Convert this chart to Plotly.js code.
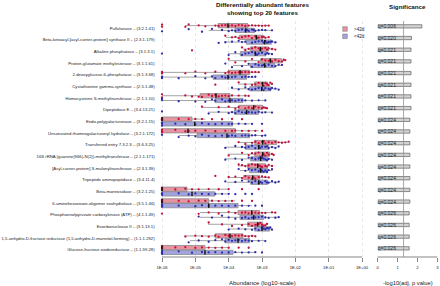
<!DOCTYPE html>
<html><head><meta charset="utf-8">
<script src="https://cdn.plot.ly/plotly-3.0.1.min.js"></script>
<style>html,body{margin:0;padding:0;background:#fff}#chart{width:440px;height:286px}</style>
</head><body><div id="chart"></div>
<script>
// ---------- data ----------
const features = [
  "Pullulanase – (3.2.1.41)",
  "Beta-ketoacyl-[acyl-carrier-protein] synthase II – (2.3.1.179)",
  "Alkaline phosphatase – (3.1.3.1)",
  "Protein-glutamate methylesterase – (3.1.1.61)",
  "2-deoxyglucose-6-phosphatase – (3.1.3.68)",
  "Cystathionine gamma-synthase – (2.5.1.48)",
  "Homocysteine S-methyltransferase – (2.1.1.10)",
  "Dipeptidase E – (3.4.13.21)",
  "Endo-polygalacturonase – (3.2.1.15)",
  "Unsaturated rhamnogalacturonyl hydrolase – (3.2.1.172)",
  "Transferred entry 7.3.2.3 – (3.6.3.25)",
  "16S rRNA (guanine(966)-N(2))-methyltransferase – (2.1.1.171)",
  "[Acyl-carrier-protein] S-malonyltransferase – (2.3.1.39)",
  "Tripeptide aminopeptidase – (3.4.11.4)",
  "Beta-mannosidase – (3.2.1.25)",
  "6-aminohexanoate-oligomer exohydrolase – (3.5.1.46)",
  "Phosphoenolpyruvate carboxykinase (ATP) – (4.1.1.49)",
  "Exoribonuclease II – (3.1.13.1)",
  "1,5-anhydro-D-fructose reductase (1,5-anhydro-D-mannitol-forming) – (1.1.1.292)",
  "Glucose-fructose oxidoreductase – (1.1.99.28)"
];
const qValues = [0.006,0.020,0.021,0.021,0.021,0.021,0.021,0.021,0.024,0.024,0.024,0.024,0.024,0.024,0.024,0.024,0.026,0.026,0.026,0.026];
const alpha = 0.05;
const groupNames = [">42d", "<42d"];

// box statistics, log10 abundance
const oldLo  = [-5.31,-4.08,-3.57,-4.02,-6,-3.72,-6,-4.83,-6,-6,-3.66,-4.0,-3.72,-4.02,-6,-6,-4.86,-4.62,-5.28,-6];
const oldQ1  = [-4.32,-3.68,-3.35,-3.04,-4.02,-3.22,-4.86,-3.7,-6,-6,-3.22,-3.22,-3.43,-3.55,-6,-6,-3.72,-3.43,-4.41,-6];
const oldMed = [-4.02,-3.17,-3.05,-2.75,-3.66,-2.98,-4.38,-3.25,-6,-5.22,-2.98,-2.98,-3.13,-3.28,-6,-6,-3.31,-3.13,-3.96,-6];
const oldQ3  = [-3.43,-2.98,-2.8,-2.42,-3.37,-2.83,-3.96,-2.98,-5.1,-3.8,-2.56,-2.77,-2.89,-3.07,-5.25,-4.6,-3.07,-2.98,-3.57,-4.71];
const oldHi  = [-2.77,-2.77,-2.62,-2.29,-3.07,-2.68,-3.43,-2.83,-4.7,-3.1,-2.23,-2.65,-2.68,-2.77,-4.0,-3.8,-2.62,-2.83,-3.19,-4.0];

const youngLo  = [-4.6,-4.1,-4.02,-3.87,-6,-3.9,-6,-4.62,-6,-5.5,-4.1,-4.1,-3.66,-4.05,-6,-6,-4.86,-4.0,-5.16,-6];
const youngQ1  = [-3.81,-3.47,-3.65,-3.35,-4.47,-3.37,-4.41,-3.83,-6,-4.95,-3.49,-3.34,-3.37,-3.34,-6,-6,-3.66,-3.22,-4.11,-6];
const youngMed = [-3.49,-2.92,-3.2,-2.92,-4.02,-3.01,-3.96,-3.46,-5.02,-4.05,-3.1,-3.04,-3.04,-3.1,-5.1,-4.6,-3.25,-3.0,-3.72,-4.71];
const youngQ3  = [-3.22,-2.72,-2.88,-2.62,-3.46,-2.74,-3.57,-3.1,-3.88,-3.37,-2.8,-2.83,-2.83,-2.83,-4.41,-3.72,-2.95,-2.77,-3.37,-3.87];
const youngHi  = [-2.68,-2.55,-2.68,-2.38,-3.22,-2.53,-2.92,-2.68,-3.35,-2.9,-2.53,-2.68,-2.68,-2.47,-3.96,-3.3,-2.47,-2.68,-2.92,-3.2];

// sample points, log10 abundance (zeros shown at 1E-06)
const oldPoints = [
  [-6,-6,-5.3,-5.2,-4.9,-4.7,-4.4,-4.3,-4.2,-4.1,-4.0,-3.9,-3.8,-3.7,-3.6,-3.5,-3.4,-3.3,-3.2,-3.1,-3.0,-2.9,-2.8],
  [-4.1,-3.9,-3.8,-3.7,-3.6,-3.5,-3.4,-3.3,-3.2,-3.15,-3.1,-3.0,-2.95,-2.9,-2.8],
  [-5.1,-3.6,-3.5,-3.4,-3.3,-3.2,-3.1,-3.05,-3.0,-2.9,-2.85,-2.8,-2.7,-2.6],
  [-4.0,-3.8,-3.5,-3.3,-3.1,-3.0,-2.9,-2.8,-2.75,-2.7,-2.6,-2.5,-2.4,-2.35,-2.3],
  [-6,-6,-6,-5.3,-5.0,-4.7,-4.4,-4.1,-4.0,-3.9,-3.8,-3.7,-3.65,-3.6,-3.5,-3.4,-3.3,-3.2,-3.1],
  [-4.4,-3.7,-3.5,-3.3,-3.2,-3.1,-3.0,-2.95,-2.9,-2.85,-2.8,-2.75,-2.7],
  [-6,-6,-5.3,-5.1,-4.9,-4.8,-4.6,-4.5,-4.4,-4.3,-4.2,-4.1,-4.0,-3.9,-3.7,-3.5,-3.4],
  [-4.8,-4.3,-4.0,-3.8,-3.7,-3.5,-3.4,-3.3,-3.2,-3.1,-3.0,-2.95,-2.9,-2.85],
  [-6,-6,-6,-6,-6,-6,-5.5,-5.2,-5.0,-4.8,-4.5,-4.2,-3.9,-3.6],
  [-6,-6,-6,-6,-5.6,-5.3,-5.2,-5.0,-4.7,-4.4,-4.1,-3.9,-3.8,-3.6,-3.4,-3.2,-3.0],
  [-3.7,-3.5,-3.3,-3.2,-3.1,-3.0,-2.95,-2.9,-2.8,-2.7,-2.6,-2.5,-2.4,-2.3,-2.2],
  [-4.0,-3.6,-3.4,-3.3,-3.2,-3.1,-3.0,-2.95,-2.9,-2.85,-2.8,-2.7,-2.65],
  [-3.7,-3.6,-3.5,-3.4,-3.3,-3.2,-3.1,-3.05,-3.0,-2.9,-2.85,-2.8,-2.7],
  [-4.4,-4.0,-3.8,-3.6,-3.5,-3.4,-3.3,-3.25,-3.2,-3.1,-3.0,-2.9,-2.8],
  [-6,-6,-6,-6,-6,-6,-5.6,-5.3,-5.1,-4.9,-4.6,-4.3,-4.0,-3.6,-3.1],
  [-6,-6,-6,-6,-6,-5.5,-5.2,-4.9,-4.7,-4.5,-4.3,-4.1,-3.9,-3.6,-3.3],
  [-6,-4.9,-4.6,-4.3,-4.0,-3.8,-3.6,-3.5,-3.4,-3.3,-3.2,-3.1,-3.0,-2.9,-2.7,-2.6],
  [-4.6,-4.2,-3.9,-3.6,-3.4,-3.3,-3.2,-3.15,-3.1,-3.05,-3.0,-2.95,-2.9,-2.85],
  [-5.3,-5.0,-4.8,-4.6,-4.4,-4.3,-4.1,-4.0,-3.9,-3.8,-3.7,-3.6,-3.5,-3.4,-3.3,-3.2],
  [-6,-6,-6,-6,-6,-5.6,-5.3,-5.0,-4.8,-4.6,-4.4,-4.2,-4.0,-3.7,-3.4]
];
const youngPoints = [
  [-6,-5.2,-4.8,-4.5,-4.2,-4.0,-3.9,-3.8,-3.7,-3.6,-3.5,-3.45,-3.4,-3.3,-3.25,-3.2,-3.1,-3.0,-2.9,-2.7],
  [-4.3,-4.1,-3.9,-3.7,-3.6,-3.5,-3.3,-3.2,-3.1,-3.0,-2.95,-2.9,-2.85,-2.8,-2.75,-2.7,-2.6],
  [-6,-4.0,-3.8,-3.6,-3.5,-3.4,-3.3,-3.2,-3.15,-3.1,-3.0,-2.9,-2.85,-2.8,-2.7],
  [-4.1,-3.9,-3.6,-3.4,-3.3,-3.2,-3.1,-3.0,-2.95,-2.9,-2.8,-2.7,-2.6,-2.5,-2.4],
  [-6,-6,-6,-5.5,-5.0,-4.7,-4.5,-4.4,-4.2,-4.1,-4.0,-3.9,-3.8,-3.6,-3.5,-3.4,-3.3,-3.2],
  [-3.9,-3.7,-3.5,-3.4,-3.3,-3.2,-3.1,-3.0,-2.95,-2.9,-2.8,-2.75,-2.7,-2.6,-2.5],
  [-6,-6,-5.5,-5.0,-4.7,-4.5,-4.4,-4.2,-4.1,-4.0,-3.9,-3.8,-3.7,-3.6,-3.5,-3.3,-3.1,-2.9],
  [-6,-4.6,-4.3,-4.0,-3.9,-3.8,-3.7,-3.6,-3.5,-3.4,-3.3,-3.2,-3.1,-3.0,-2.9,-2.7],
  [-6,-6,-6,-6,-6,-5.6,-5.3,-5.0,-4.8,-4.6,-4.4,-4.2,-4.0,-3.9,-3.7,-3.5,-3.3,-3.0],
  [-6,-5.5,-5.2,-5.0,-4.8,-4.6,-4.4,-4.2,-4.0,-3.9,-3.8,-3.6,-3.5,-3.4,-3.3,-3.2,-3.0,-2.9],
  [-4.1,-3.8,-3.6,-3.5,-3.4,-3.3,-3.2,-3.1,-3.05,-3.0,-2.9,-2.85,-2.8,-2.7,-2.6,-2.5],
  [-4.1,-3.8,-3.6,-3.4,-3.3,-3.2,-3.1,-3.05,-3.0,-2.95,-2.9,-2.85,-2.8,-2.7],
  [-3.7,-3.5,-3.4,-3.3,-3.2,-3.1,-3.05,-3.0,-2.95,-2.9,-2.85,-2.8,-2.7],
  [-4.1,-3.8,-3.6,-3.4,-3.3,-3.2,-3.1,-3.05,-3.0,-2.9,-2.85,-2.8,-2.7,-2.6,-2.5],
  [-6,-6,-6,-6,-5.5,-5.2,-5.0,-4.8,-4.6,-4.4,-4.2,-4.0,-3.8,-3.5,-3.3],
  [-6,-6,-6,-6,-5.5,-5.0,-4.8,-4.6,-4.4,-4.2,-4.0,-3.8,-3.6,-3.4,-3.2,-3.0],
  [-4.9,-4.5,-4.2,-4.0,-3.8,-3.6,-3.5,-3.4,-3.3,-3.2,-3.1,-3.0,-2.9,-2.8,-2.6,-2.5],
  [-4.0,-3.7,-3.5,-3.3,-3.2,-3.1,-3.0,-2.95,-2.9,-2.85,-2.8,-2.75,-2.7],
  [-5.2,-4.9,-4.6,-4.4,-4.2,-4.1,-4.0,-3.9,-3.8,-3.7,-3.6,-3.5,-3.4,-3.3,-3.1,-2.9],
  [-6,-6,-6,-6,-6,-5.5,-5.1,-4.8,-4.6,-4.4,-4.2,-4.0,-3.8,-3.6,-3.4,-3.2,-3.0]
];

const abundTickVals = [1e-6,1e-5,1e-4,1e-3,1e-2,1e-1,1];
const abundTickText = ["1E-06","1E-05","1E-04","1E-03","1E-02","1E-01","1E+00"];
const sigTickVals = [0,1,2,3];

// ---------- styling ----------
const W = 440, H = 286, TOP = 21, BOTTOM = 257;
const PH = BOTTOM - TOP;
const px = v => v / W;
const py = v => (BOTTOM - v) / PH;
const FONT = "Liberation Sans, Arial, Helvetica, sans-serif";
const redPt = "#c4103a", bluePt = "#2e2eac";
const redFill = "rgba(205,40,70,0.5)", blueFill = "rgba(70,70,190,0.5)";
const boxLine = "#8c8c8c";

const lin = a => a.map(v => Math.pow(10, v));

function statBox(lo, q1, med, q3, hi, fill, lineColor, lw, og) {
  return {
    type: "box", orientation: "h", y: features,
    q1: lin(q1), median: lin(med), q3: lin(q3),
    lowerfence: lin(lo), upperfence: lin(hi),
    fillcolor: fill, line: { color: lineColor, width: lw },
    whiskerwidth: 0, boxpoints: false, offsetgroup: og,
    xaxis: "x", yaxis: "y", hoverinfo: "skip", showlegend: false
  };
}
function pointBox(pts, color, og) {
  const x = [], y = [];
  pts.forEach((row, i) => row.forEach(v => { x.push(Math.pow(10, v)); y.push(features[i]); }));
  return {
    type: "box", orientation: "h", x: x, y: y,
    boxpoints: "all", jitter: 0.9, pointpos: 0,
    fillcolor: "rgba(0,0,0,0)", line: { width: 0, color: "rgba(0,0,0,0)" },
    whiskerwidth: 0,
    marker: { color: color, size: 2.3, line: { width: 0 } },
    offsetgroup: og, xaxis: "x", yaxis: "y", hoverinfo: "skip", showlegend: false
  };
}

const traces = [
  statBox(oldLo, oldQ1, oldMed, oldQ3, oldHi, redFill, boxLine, 0.8, "old"),
  statBox(youngLo, youngQ1, youngMed, youngQ3, youngHi, blueFill, boxLine, 0.8, "young"),
  pointBox(oldPoints, redPt, "old"),
  pointBox(youngPoints, bluePt, "young"),
  statBox(oldMed, oldMed, oldMed, oldMed, oldMed, "rgba(0,0,0,0)", "#111", 1.4, "old"),
  statBox(youngMed, youngMed, youngMed, youngMed, youngMed, "rgba(0,0,0,0)", "#111", 1.4, "young"),
  {
    type: "bar", orientation: "h", y: features,
    x: qValues.map(q => -Math.log10(q)),
    text: qValues.map(q => "q=" + q.toFixed(3)),
    textposition: "inside", insidetextanchor: "start", textangle: 0,
    constraintext: "none",
    insidetextfont: { family: FONT, size: 5, color: "#222" },
    marker: { color: "#d3d3d3", line: { color: "#4a4a4a", width: 0.6 } },
    xaxis: "x2", yaxis: "y", hoverinfo: "skip", showlegend: false
  }
];

const axisCommon = {
  ticks: "outside", ticklen: 3.5, tickwidth: 0.6, tickcolor: "#333",
  showline: false, zeroline: false, fixedrange: true,
  tickfont: { family: FONT, size: 4.2, color: "#222" }, ticklabelstandoff: 2
};

const layout = {
  width: W, height: H,
  margin: { l: 0, r: 0, t: TOP, b: H - BOTTOM, pad: 0 },
  paper_bgcolor: "#fff", plot_bgcolor: "rgba(0,0,0,0)",
  font: { family: FONT, size: 4, color: "#222" },
  showlegend: false,
  boxmode: "group", boxgap: 0.19, boxgroupgap: 0.1,
  bargap: 0.43,
  xaxis: Object.assign({}, axisCommon, {
    type: "log", domain: [px(158.67), px(365.33)], range: [-6.1, 0.1],
    tickvals: abundTickVals, ticktext: abundTickText,
    showgrid: true, gridcolor: "#d6d6d6", griddash: "dot", gridwidth: 0.6, anchor: "y"
  }),
  xaxis2: Object.assign({}, axisCommon, {
    domain: [px(377.7), px(437.3)], range: [0, 3],
    tickvals: sigTickVals, showgrid: false, anchor: "y"
  }),
  yaxis: {
    type: "category", categoryorder: "array", categoryarray: features,
    range: [19.6, -0.6], domain: [0, 1], ticks: "", showline: false,
    showgrid: false, zeroline: false, automargin: false, fixedrange: true,
    tickfont: { family: FONT, size: 4.25, color: "#222" }, ticklabelstandoff: 3
  },
  shapes: [
    { type: "line", xref: "paper", yref: "paper", x0: px(162), x1: px(362), y0: 0, y1: 0, line: { color: "#333", width: 0.6 } },
    { type: "line", xref: "paper", yref: "paper", x0: px(377.7), x1: px(437.3), y0: 0, y1: 0, line: { color: "#333", width: 0.6 } },
    { type: "line", xref: "x2", yref: "paper", x0: -Math.log10(alpha), x1: -Math.log10(alpha), y0: 0, y1: 1, line: { color: "#ec6b6b", width: 0.8 } },
    { type: "rect", xref: "paper", yref: "paper", x0: px(342.7), x1: px(347.3), y0: py(31.3), y1: py(26.7), fillcolor: redFill, line: { color: "#777", width: 0.5 } },
    { type: "rect", xref: "paper", yref: "paper", x0: px(342.7), x1: px(347.3), y0: py(38.6), y1: py(34.0), fillcolor: blueFill, line: { color: "#777", width: 0.5 } }
  ],
  annotations: [
    { text: "<b>Differentially abundant features</b>", x: px(262.5), y: py(4.3), xref: "paper", yref: "paper", xanchor: "center", yanchor: "middle", showarrow: false, font: { family: FONT, size: 6.2, color: "#111" } },
    { text: "<b>showing top 20 features</b>", x: px(262.5), y: py(12.8), xref: "paper", yref: "paper", xanchor: "center", yanchor: "middle", showarrow: false, font: { family: FONT, size: 6.2, color: "#111" } },
    { text: "<b>Significance</b>", x: px(407.5), y: py(6.8), xref: "paper", yref: "paper", xanchor: "center", yanchor: "middle", showarrow: false, font: { family: FONT, size: 6.2, color: "#111" } },
    { text: "Abundance (log10-scale)", x: px(262), y: py(282.7), xref: "paper", yref: "paper", xanchor: "center", yanchor: "middle", showarrow: false, font: { family: FONT, size: 6, color: "#222" } },
    { text: "-log10(adj. p value)", x: px(407.5), y: py(282.7), xref: "paper", yref: "paper", xanchor: "center", yanchor: "middle", showarrow: false, font: { family: FONT, size: 5.8, color: "#222" } },
    { text: "&gt;42d", x: px(351.5), y: py(29), xref: "paper", yref: "paper", xanchor: "left", yanchor: "middle", showarrow: false, font: { family: FONT, size: 4.6, color: "#222" } },
    { text: "&lt;42d", x: px(351.5), y: py(36.3), xref: "paper", yref: "paper", xanchor: "left", yanchor: "middle", showarrow: false, font: { family: FONT, size: 4.6, color: "#222" } }
  ]
};

Plotly.newPlot("chart", traces, layout, { staticPlot: true, displayModeBar: false });
</script>
</body></html>
